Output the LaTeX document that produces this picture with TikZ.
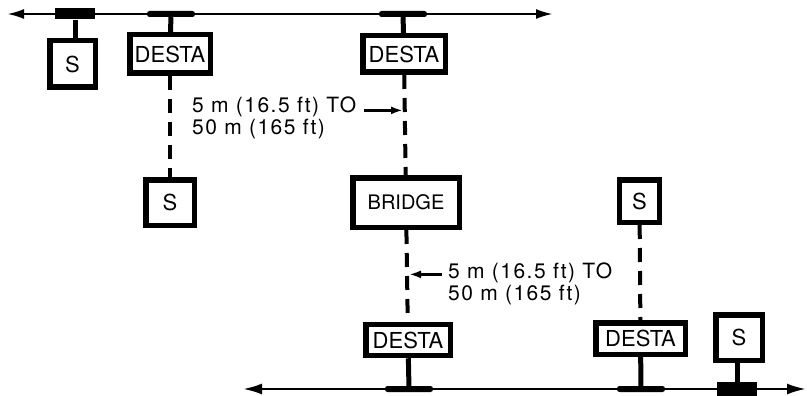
\documentclass[tikz,border=0pt]{standalone}
\usepackage{fontspec}
\setmainfont{TeX Gyre Heros}
\newfontfamily\lblfont[LetterSpace=7]{TeX Gyre Heros}
\usetikzlibrary{arrows.meta}
\begin{document}
\begin{tikzpicture}[x=1pt,y=-1pt,
  box/.style={draw, line width=5.5pt, inner sep=0pt, font=\fontsize{22}{26}\selectfont},
  bus/.style={line width=2.5pt},
  tapbar/.style={fill, rectangle, rounded corners=2.5pt, minimum height=6pt, minimum width=48pt, inner sep=0pt},
  tapblk/.style={fill, rectangle, minimum width=40pt, inner sep=0pt},
  stem/.style={line width=5pt},
  drop/.style={line width=4pt, dash pattern=on 14pt off 9pt},
  lbl/.style={font=\lblfont\fontsize{21}{22}\selectfont, inner sep=0pt, anchor=base west},
  lblarrow/.style={line width=2.5pt, -{Latex[length=12pt,width=8pt]}}
]
\useasboundingbox (0,0) rectangle (807,396);

% top bus
\coordinate (tL) at (7,14);
\coordinate (tR) at (553,14);
\draw[bus, {Latex[length=17pt,width=10pt]}-{Latex[length=17pt,width=10pt]}] (tL) -- (tR);

% bottom bus
\coordinate (bL) at (243,389);
\coordinate (bR) at (806,389);
\draw[bus, {Latex[length=19pt,width=11pt]}-{Latex[length=19pt,width=11pt]}] (bL) -- (bR);

% boxes
\node[box, minimum width=45.5pt, minimum height=46.5pt] (s1) at (72.5,64) {S};
\node[box, minimum width=80.5pt, minimum height=38.5pt] (d1) at (170,54) {DESTA};
\node[box, minimum width=82.5pt, minimum height=36.5pt] (d2) at (404,54) {DESTA};
\node[box, minimum width=48.5pt, minimum height=45.5pt] (s2) at (170,202.5) {S};
\node[box, minimum width=106.5pt, minimum height=49.5pt, font=\fontsize{20}{24}\selectfont] (br) at (406,202.5) {BRIDGE};
\node[box, minimum width=40pt, minimum height=42.5pt] (s3) at (639.5,201) {S};
\node[box, minimum width=84.5pt, minimum height=31pt] (d3) at (408,340) {DESTA};
\node[box, minimum width=89.5pt, minimum height=31.5pt] (d4) at (640.5,338.5) {DESTA};
\node[box, minimum width=46.5pt, minimum height=45.5pt] (s4) at (739,337.5) {S};

% taps on top bus
\node[tapblk, minimum height=11pt] (k1) at (75,14) {};
\node[tapbar] (p1) at (171,14) {};
\node[tapbar] (p2) at (403,14) {};
% taps on bottom bus
\node[tapbar] (p3) at (409,389) {};
\node[tapbar] (p4) at (641,389) {};
\node[tapblk, minimum height=14pt] (k2) at (737,389) {};

% stems
\draw[stem] (k1.south) -- (k1.south |- s1.north);
\draw[stem] (p1) -- (d1);
\draw[stem] (p2) -- (d2);
\draw[stem] (d3) -- (p3);
\draw[stem] (d4) -- (p4);
\draw[stem] (s4.south -| k2) -- (k2.north);

% drop cables
\draw[drop] (d1) -- (s2);
\draw[drop] (d2) -- (br);
\draw[drop] (br) -- (d3);
\draw[drop] (s3) -- (d4);

% labels
\node[lbl] (l1a) at (192,113) {5 m (16.5 ft) TO};
\node[lbl] (l1b) at (192,135) {50 m (165 ft)};
\node[lbl] (l2a) at (448,278) {5 m (16.5 ft) TO};
\node[lbl] (l2b) at (448,300) {50 m (165 ft)};

\draw[lblarrow, shorten >=1pt] ([xshift=8pt,yshift=-3pt]l1a.east) -- ([yshift=-3pt]l1a.east -| d2);
\draw[lblarrow, shorten >=1pt] ([xshift=-6pt,yshift=-2pt]l2a.west) -- ([yshift=-2pt]l2a.west -| d3);
\end{tikzpicture}
\end{document}
